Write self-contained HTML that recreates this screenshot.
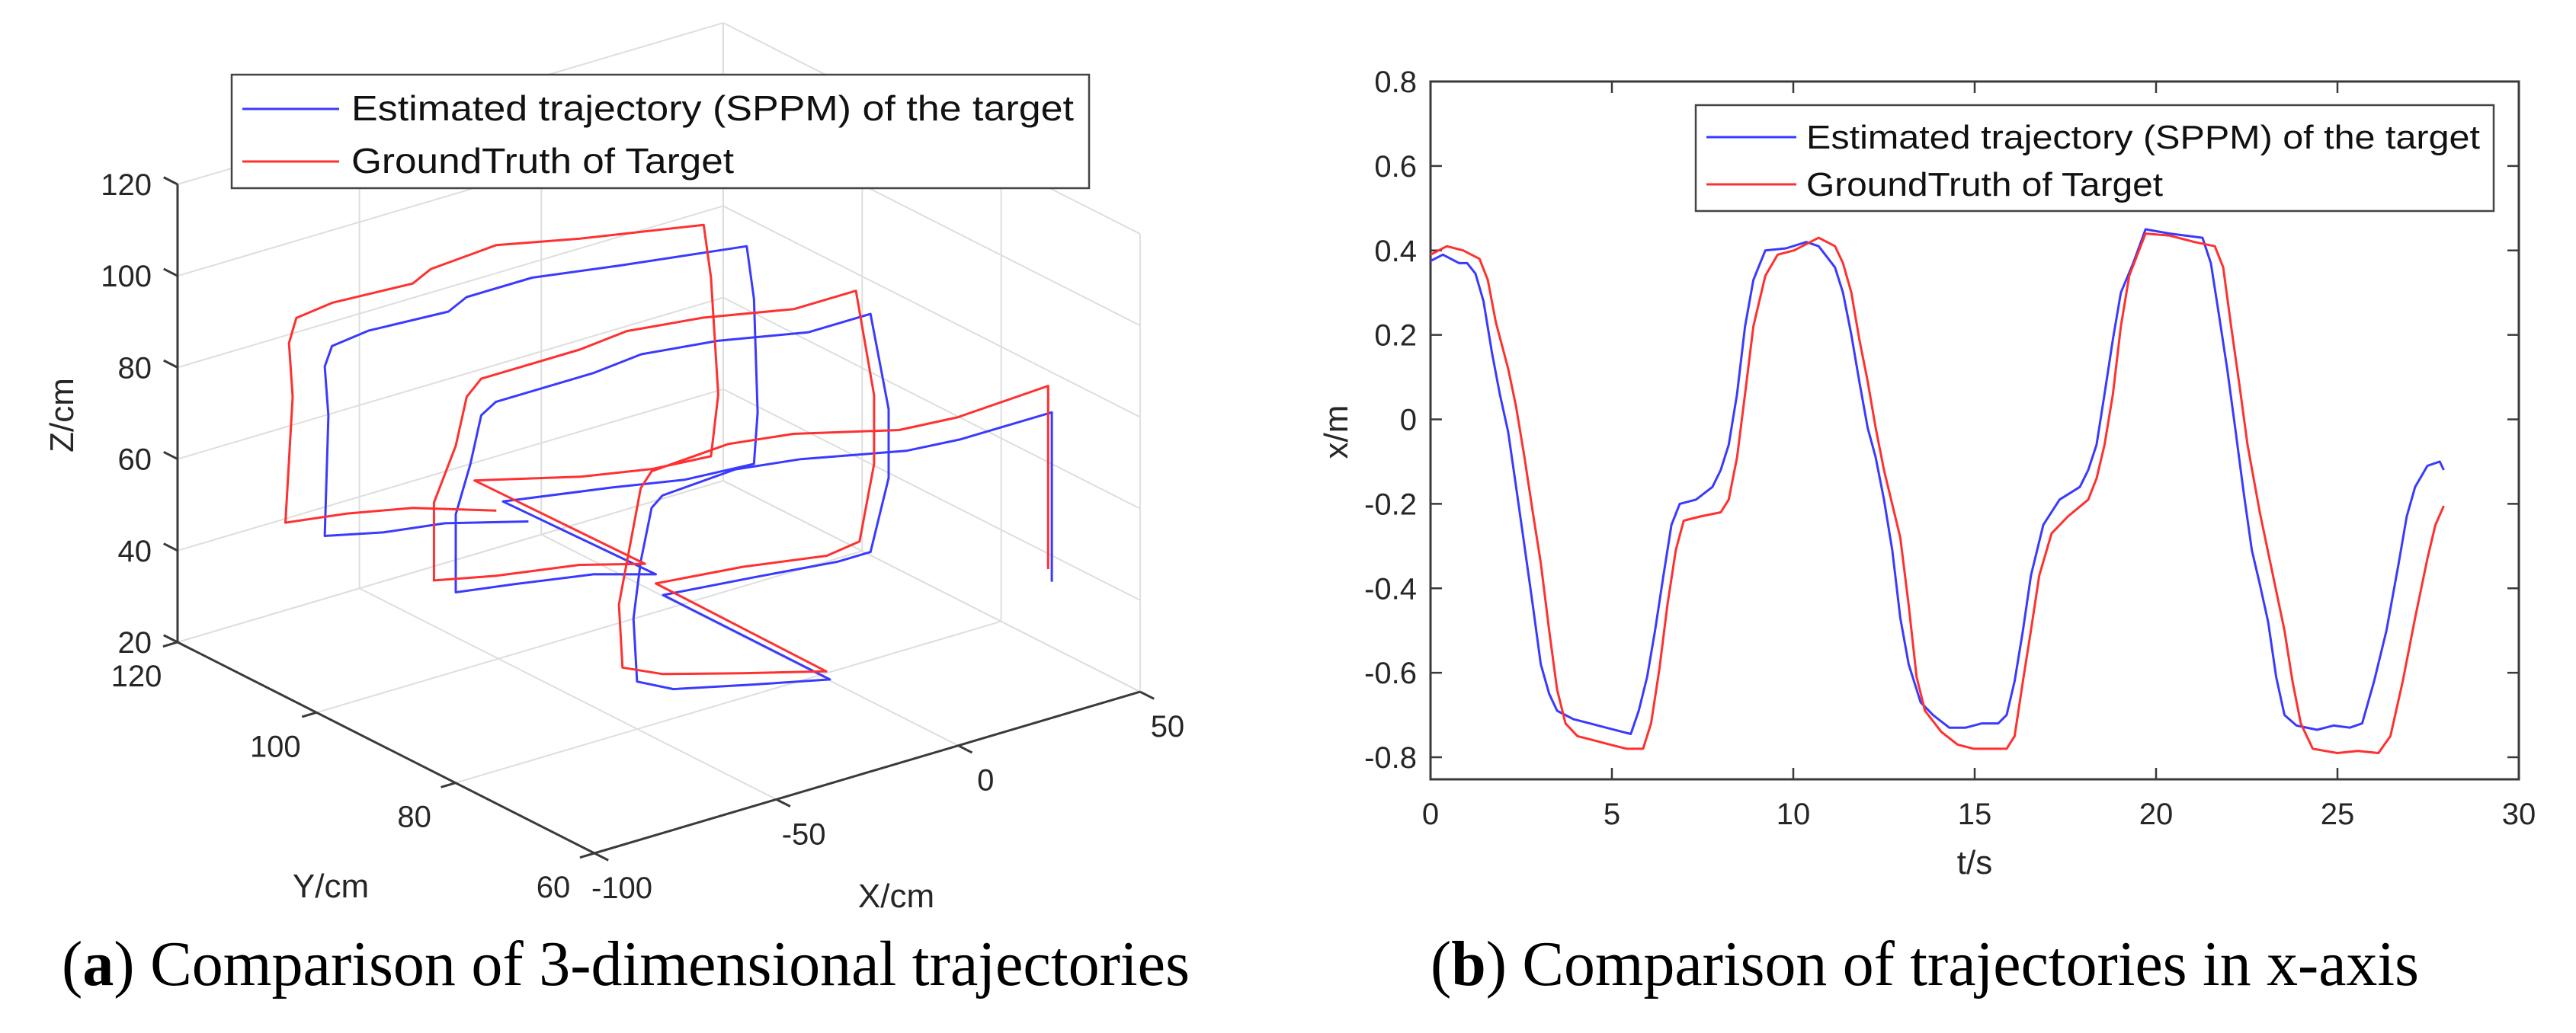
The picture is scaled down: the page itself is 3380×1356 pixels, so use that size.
<!DOCTYPE html>
<html><head><meta charset="utf-8"><style>
html,body{margin:0;padding:0;background:#fff;}
svg{display:block;}
</style></head><body>
<svg id="fig" width="3380" height="1356" viewBox="0 0 3380 1356" xmlns="http://www.w3.org/2000/svg" font-family="'Liberation Sans', sans-serif">
<rect x="0" y="0" width="3380" height="1356" fill="#fff"/>
<g id="left"></g>
<g id="right"></g>
<text x="81" y="1293" font-family="'Liberation Serif', serif" font-size="84" fill="#000" textLength="1480" lengthAdjust="spacingAndGlyphs">(<tspan font-weight="bold">a</tspan>) Comparison of 3-dimensional trajectories</text>
<text x="1877" y="1293" font-family="'Liberation Serif', serif" font-size="84" fill="#000" textLength="1297" lengthAdjust="spacingAndGlyphs">(<tspan font-weight="bold">b</tspan>) Comparison of trajectories in x-axis</text>
</svg>
<script>
// ===== 3D chart data =====
const xTicks3d = [-100, -50, 0, 50];
const yTicks3d = [60, 80, 100, 120];
const zTicks3d = [20, 40, 60, 80, 100, 120];
const redX = [40,40,15,-1,-30,-48,-69,-72,-75,-78,-77,-66,-44,-21, -22,2,25,34,38,38,33,16,-9,-30,-43,-70,-74,-77,-83,-83,-66,-43,-25, -26,3,23,39,41,39,37,3,-20,-38,-43,-65,-75,-77,-76,-78,-61,-43,-20];
const redY = [68,68,68,68,68,68,68,68,68,68,68,68,68,68, 92,92,92,92,92,92,92,92,92,92,92,92,92,92,92,92,92,92,92, 116,116,116,116,116,116,116,116,116,116,116,116,116,116,116,116,116,116,116];
const redZ = [43,83,82,83,89,91,90,87,75,63,49,45,40,35, 36,34,31,32,48,63,87,87,91,93,92,92,89,79,68,51,48,45,41, 41,35,32,31,44,70,82,87,91,90,88,89,88,83,71,44,42,39,33];
const blueX = [41,41,16,1,-28,-46,-66,-69,-72,-74,-73,-63,-42,-20, -20,5,28,37,42,42,37,20,-5,-26,-39,-66,-70,-73,-77,-77,-61,-39,-22, -22,8,28,47,48,47,45,10,-14,-32,-37,-59,-69,-71,-70,-71,-55,-38,-15];
const blueY = [68,68,68,68,68,68,68,68,68,68,68,68,68,68, 92,92,92,92,92,92,92,92,92,92,92,92,92,92,92,92,92,92,92, 114,114,114,114,114,114,114,114,114,114,114,114,114,114,114,114,114,114,114];
const blueZ = [40,77,77,78,83,85,84,82,71,59,45,41,37,33, 33,31,29,29,44,59,81,81,85,87,86,86,84,74,64,47,45,42,38, 37,33,30,29,40,65,77,81,84,84,82,83,82,78,67,41,38,36,31];

// ===== 2D chart data =====
const tTicks = [0,5,10,15,20,25,30];
const xmTicks = [-0.8,-0.6,-0.4,-0.2,0,0.2,0.4,0.6,0.8];
const blueT = [0,.34,.79,1.01,1.24,1.46,1.69,1.91,2.14,2.36,2.59,2.82,3.04,3.27,3.49,3.94,4.39,4.84,5.29,5.52,5.74,5.97,6.19,6.42,6.64,6.87,7.32,7.77,8.0,8.22,8.45,8.67,8.9,9.23,9.8,10.36,10.7,11.15,11.37,11.6,11.82,12.05,12.27,12.5,12.73,12.95,13.18,13.51,13.85,14.3,14.75,15.2,15.65,15.88,16.1,16.33,16.55,16.89,17.34,17.9,18.13,18.36,18.58,18.81,19.03,19.37,19.71,20.38,21.28,21.51,21.73,21.96,22.18,22.41,22.64,22.86,23.09,23.31,23.54,23.87,24.44,24.89,25.34,25.68,26.01,26.35,26.69,26.91,27.14,27.48,27.82,27.93];
const blueV = [.375,.39,.37,.37,.345,.28,.16,.06,-.03,-.16,-.30,-.44,-.58,-.65,-.69,-.71,-.72,-.73,-.74,-.745,-.69,-.61,-.5,-.37,-.25,-.20,-.19,-.16,-.12,-.06,.06,.22,.33,.40,.405,.42,.41,.36,.30,.20,.09,-.02,-.09,-.19,-.31,-.47,-.58,-.67,-.70,-.73,-.73,-.72,-.72,-.70,-.62,-.5,-.37,-.25,-.19,-.16,-.12,-.06,.06,.19,.30,.37,.45,.44,.43,.37,.25,.12,-.02,-.17,-.31,-.39,-.48,-.61,-.70,-.725,-.735,-.725,-.73,-.72,-.62,-.5,-.34,-.23,-.16,-.11,-.10,-.12];
const redT = [0,.45,.9,1.35,1.58,1.8,2.14,2.36,2.59,2.82,3.04,3.27,3.49,3.72,4.05,4.5,4.95,5.41,5.86,6.08,6.31,6.53,6.76,6.98,7.43,8.0,8.22,8.45,8.67,8.9,9.23,9.57,10.02,10.7,11.15,11.37,11.6,11.82,12.05,12.27,12.5,12.95,13.18,13.4,13.63,14.08,14.53,14.98,15.88,16.1,16.33,16.55,16.78,17.12,17.57,18.13,18.36,18.58,18.81,19.03,19.26,19.71,20.38,21.06,21.62,21.85,22.07,22.3,22.52,22.86,23.2,23.54,23.76,23.99,24.32,25.0,25.56,26.13,26.46,26.8,27.14,27.48,27.7,27.93];
const redV = [.39,.41,.40,.38,.33,.23,.12,.03,-.09,-.22,-.34,-.5,-.64,-.72,-.75,-.76,-.77,-.78,-.78,-.72,-.59,-.44,-.31,-.24,-.23,-.22,-.19,-.09,.06,.22,.34,.39,.40,.43,.41,.37,.30,.19,.09,-.02,-.12,-.28,-.44,-.61,-.69,-.74,-.77,-.78,-.78,-.75,-.62,-.5,-.37,-.27,-.23,-.19,-.14,-.06,.06,.22,.34,.44,.435,.42,.41,.36,.22,.08,-.06,-.22,-.36,-.5,-.62,-.72,-.78,-.79,-.785,-.79,-.75,-.62,-.47,-.33,-.25,-.205];

const NS='http://www.w3.org/2000/svg';
function mk(parent, tag, attrs){const e=document.createElementNS(NS,tag);for(const k in attrs)e.setAttribute(k,attrs[k]);parent.appendChild(e);return e;}
const BLUE='#3a3aff', RED='#ff3030', AX='#3a3a3a', GRID='#dedede';

// ===== 3D projection =====
const O={x:780,y:1120}; const EX={x:4.773,y:-1.413}; const EY={x:-9.117,y:-4.617}; const EZ={x:0,y:-6.01};
function P(X,Y,Z){return {x:O.x+(X+100)*EX.x+(Y-60)*EY.x+(Z-20)*EZ.x, y:O.y+(X+100)*EX.y+(Y-60)*EY.y+(Z-20)*EZ.y};}
const L=document.getElementById('left');
function seg(a,b,stroke,w,name){const e=mk(L,'line',{x1:a.x,y1:a.y,x2:b.x,y2:b.y,stroke:stroke,'stroke-width':w});return e;}
// grid: floor Z=20, wall Y=120, wall X=50
xTicks3d.forEach(X=>{seg(P(X,60,20),P(X,120,20),GRID,2,'grid-floor-x');seg(P(X,120,20),P(X,120,120),GRID,2,'grid-wall-x');});
yTicks3d.forEach(Y=>{seg(P(-100,Y,20),P(50,Y,20),GRID,2,'grid-floor-y');seg(P(50,Y,20),P(50,Y,120),GRID,2,'grid-wall-y');});
zTicks3d.forEach(Z=>{seg(P(-100,120,Z),P(50,120,Z),GRID,2,'grid-wall-z');seg(P(50,60,Z),P(50,120,Z),GRID,2,'grid-side-z');});
// axes
seg(P(-100,120,20),P(-100,120,120),AX,3,'z-axis-line');
seg(P(-100,120,20),P(-100,60,20),AX,3,'y-axis-line');
seg(P(-100,60,20),P(50,60,20),AX,3,'x-axis-line');
zTicks3d.forEach(Z=>{const a=P(-100,120,Z),b=P(-100,122,Z);seg(a,b,AX,3,'z-tick');
 const t=mk(L,'text',{x:199,y:a.y+14,'font-size':40,'text-anchor':'end',fill:'#262626'});t.textContent=Z;
 });
yTicks3d.forEach(Y=>{const a=P(-100,Y,20),b=P(-104,Y,20);seg(a,b,AX,3,'y-tick');
 const t=mk(L,'text',{x:a.x-54,y:a.y+58,'font-size':40,'text-anchor':'middle',fill:'#262626'});t.textContent=Y;
 });
xTicks3d.forEach(X=>{const a=P(X,60,20),b=P(X,58,20);seg(a,b,AX,3,'x-tick');
 const t=mk(L,'text',{x:a.x+36,y:a.y+59,'font-size':40,'text-anchor':'middle',fill:'#262626'});t.textContent=X;
 });
function path3(xs,ys,zs,col,name){let d='';for(let i=0;i<xs.length;i++){const p=P(xs[i],ys[i],zs[i]);d+=(i?'L':'M')+p.x.toFixed(1)+' '+p.y.toFixed(1);}
 const e=mk(L,'path',{d:d,fill:'none',stroke:col,'stroke-width':3,'stroke-linejoin':'round'});}
path3(blueX,blueY,blueZ,BLUE,'estimated-trajectory-3d');
path3(redX,redY,redZ,RED,'ground-truth-3d');
// axis titles
let t=mk(L,'text',{x:0,y:0,'font-size':44,'text-anchor':'middle',fill:'#262626',transform:'translate(96,545) rotate(-90)'});t.textContent='Z/cm';

t=mk(L,'text',{x:434,y:1178,'font-size':44,'text-anchor':'middle',fill:'#262626'});t.textContent='Y/cm';

t=mk(L,'text',{x:1176,y:1191,'font-size':44,'text-anchor':'middle',fill:'#262626'});t.textContent='X/cm';

// legend
function legend(G,x0,y0,x1,y1,lx0,lx1,tx,r1,r2,tl1,tl2,fs){
 const r=mk(G,'rect',{x:x0,y:y0,width:x1-x0,height:y1-y0,fill:'#fff',stroke:'#444','stroke-width':2.5});
 let l=mk(G,'line',{x1:lx0,y1:r1,x2:lx1,y2:r1,stroke:BLUE,'stroke-width':3});
 l=mk(G,'line',{x1:lx0,y1:r2,x2:lx1,y2:r2,stroke:RED,'stroke-width':3});
 let a=mk(G,'text',{x:tx,y:r1+15,'font-size':fs,fill:'#111',textLength:tl1,lengthAdjust:'spacingAndGlyphs'});a.textContent='Estimated trajectory (SPPM) of the target';
 
 a=mk(G,'text',{x:tx,y:r2+15,'font-size':fs,fill:'#111',textLength:tl2,lengthAdjust:'spacingAndGlyphs'});a.textContent='GroundTruth of Target';
 }
legend(L,304,98,1429,247,318,445,461,143,212,948,502,46);

// ===== 2D chart =====
const R=document.getElementById('right');
const PX0=1877,PX1=3305,PY0=107,PYB=1023;
const sx=v=>PX0+(v-0)/30*(PX1-PX0);
const sy=v=>994-(v+0.8)/1.6*(994-107);
let e=mk(R,'rect',{x:PX0,y:PY0,width:PX1-PX0,height:PYB-PY0,fill:'none',stroke:AX,'stroke-width':3});

tTicks.forEach(v=>{const x=sx(v);
 let l=mk(R,'line',{x1:x,y1:PYB,x2:x,y2:PYB-15,stroke:AX,'stroke-width':2.5});
 l=mk(R,'line',{x1:x,y1:PY0,x2:x,y2:PY0+15,stroke:AX,'stroke-width':2.5});
 const tt=mk(R,'text',{x:x,y:1082,'font-size':40,'text-anchor':'middle',fill:'#262626'});tt.textContent=v;
 });
xmTicks.forEach(v=>{const y=sy(v);
 let l=mk(R,'line',{x1:PX0,y1:y,x2:PX0+15,y2:y,stroke:AX,'stroke-width':2.5});
 l=mk(R,'line',{x1:PX1,y1:y,x2:PX1-15,y2:y,stroke:AX,'stroke-width':2.5});
 const tt=mk(R,'text',{x:1859,y:y+14,'font-size':40,'text-anchor':'end',fill:'#262626'});tt.textContent=(v===0?'0':v.toFixed(1));
 });
function line2(ts,vs,col,name){let d='';for(let i=0;i<ts.length;i++){d+=(i?'L':'M')+sx(ts[i]).toFixed(1)+' '+sy(vs[i]).toFixed(1);}
 const p=mk(R,'path',{d:d,fill:'none',stroke:col,'stroke-width':3,'stroke-linejoin':'round'});}
line2(blueT,blueV,BLUE,'estimated-trajectory-x');
line2(redT,redV,RED,'ground-truth-x');
t=mk(R,'text',{x:0,y:0,'font-size':44,'text-anchor':'middle',fill:'#262626',transform:'translate(1768,567) rotate(-90)'});t.textContent='x/m';

t=mk(R,'text',{x:2591,y:1147,'font-size':44,'text-anchor':'middle',fill:'#262626'});t.textContent='t/s';

legend(R,2225,138,3272,277,2239,2357,2370,180,242,884,468,44);
</script>
</body></html>
